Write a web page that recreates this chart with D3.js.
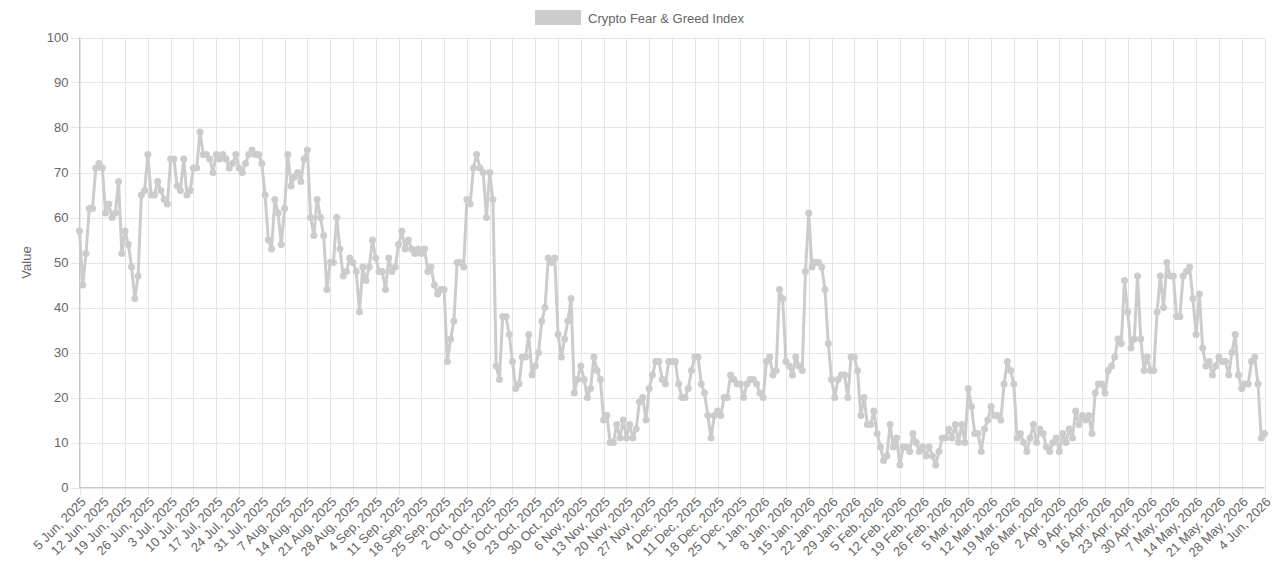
<!DOCTYPE html>
<html>
<head>
<meta charset="utf-8">
<script src="https://cdn.jsdelivr.net/npm/d3@7"></script>
<style>
body { margin: 0; background: #fff; }
svg { display: block; font-family: "Helvetica Neue", Helvetica, Arial, "Liberation Sans", sans-serif; }
</style>
</head>
<body>
<svg id="chart" width="1280" height="573"></svg>
<script>
// daily index values, split by month (first day = 5 Jun 2025)
let jun2025 = [57,45,52,62,62,71,72,71,61,63,60,61,68,52,57,54,49,42,47,65,66,74,65,65,68,66];
let jul2025 = [64,63,73,73,67,66,73,65,66,71,71,79,74,74,73,70,74,73,74,73,71,72,74,71,70,72,74,75,74,74,72];
let aug2025 = [65,55,53,64,61,54,62,74,67,69,70,68,73,75,60,56,64,60,56,44,50,50,60,53,47,48,51,50,48,39,49];
let sep2025 = [46,49,55,51,48,48,44,51,48,49,54,57,53,55,53,52,53,52,53,48,49,45,43,44,44,28,33,37,50,50];
let oct2025 = [49,64,63,71,74,71,70,60,70,64,27,24,38,38,34,28,22,23,29,29,34,25,27,30,37,40,51,50,51,34,29];
let nov2025 = [33,37,42,21,24,27,24,20,22,29,26,24,15,16,10,10,14,11,15,11,14,11,13,19,20,15,22,25,28,28];
let dec2025 = [24,23,28,28,28,23,20,20,22,26,29,29,23,21,16,11,16,17,16,20,20,25,24,23,23,20,23,24,24,23,21];
let jan2026 = [20,28,29,25,26,44,42,28,27,25,29,27,26,48,61,49,50,50,49,44,32,24,20,24,25,25,20,29,29,26,16];
let feb2026 = [20,14,14,17,12,9,6,7,14,9,11,5,9,9,8,12,10,8,9,7,9,7,5,8,11,11,13,11];
let mar2026 = [14,10,14,10,22,18,12,12,8,13,15,18,16,16,15,23,28,26,23,11,12,10,8,11,14,10,13,12,9,8,10];
let apr2026 = [11,8,12,10,13,11,17,14,16,15,16,12,21,23,23,21,26,27,29,33,32,46,39,31,33,47,33,26,29,26];
let may2026 = [26,39,47,40,50,47,47,38,38,47,48,49,42,34,43,31,27,28,25,27,29,28,28,25,30,34,25,22,23,23,28];
let jun2026 = [29,23,11,12];

// labels shown on the x axis, one every 7 days
let tickLabels = ["5 Jun, 2025","12 Jun, 2025","19 Jun, 2025","26 Jun, 2025","3 Jul, 2025","10 Jul, 2025",
	"17 Jul, 2025","24 Jul, 2025","31 Jul, 2025","7 Aug, 2025","14 Aug, 2025","21 Aug, 2025","28 Aug, 2025",
	"4 Sep, 2025","11 Sep, 2025","18 Sep, 2025","25 Sep, 2025","2 Oct, 2025","9 Oct, 2025","16 Oct, 2025",
	"23 Oct, 2025","30 Oct, 2025","6 Nov, 2025","13 Nov, 2025","20 Nov, 2025","27 Nov, 2025","4 Dec, 2025",
	"11 Dec, 2025","18 Dec, 2025","25 Dec, 2025","1 Jan, 2026","8 Jan, 2026","15 Jan, 2026","22 Jan, 2026",
	"29 Jan, 2026","5 Feb, 2026","12 Feb, 2026","19 Feb, 2026","26 Feb, 2026","5 Mar, 2026","12 Mar, 2026",
	"19 Mar, 2026","26 Mar, 2026","2 Apr, 2026","9 Apr, 2026","16 Apr, 2026","23 Apr, 2026","30 Apr, 2026",
	"7 May, 2026","14 May, 2026","21 May, 2026","28 May, 2026","4 Jun, 2026"];
let yTicks = [0,10,20,30,40,50,60,70,80,90,100];
let seriesName = "Crypto Fear & Greed Index";

let values = [].concat(jun2025, jul2025, aug2025, sep2025, oct2025, nov2025,
	dec2025, jan2026, feb2026, mar2026, apr2026, may2026, jun2026);

let plotLeft = 79.5, plotRight = 1264.5, plotTop = 37.5, plotBottom = 487.5;
let textColor = "#666";
let gridColor = "#e5e5e5";
let lineColor = "#cccccc";

let svg = d3.select("#chart");

let scaleX = d3.scaleLinear().domain([0, values.length - 1]).range([plotLeft, plotRight]);
let scaleY = d3.scaleLinear().domain([0, 100]).range([plotBottom, plotTop]);

// horizontal grid
svg.append("g").selectAll("line")
	.data(yTicks)
	.enter().append("line")
	.attr("x1", plotLeft - 8).attr("x2", plotRight)
	.attr("y1", d => Math.round(scaleY(d)) + 0.5).attr("y2", d => Math.round(scaleY(d)) + 0.5)
	.attr("stroke", gridColor).attr("stroke-width", 1);

// vertical grid, one per labelled day
let tickIdx = tickLabels.map((d, i) => i * 7);
svg.append("g").selectAll("line")
	.data(tickIdx)
	.enter().append("line")
	.attr("x1", d => Math.round(scaleX(d)) + 0.5).attr("x2", d => Math.round(scaleX(d)) + 0.5)
	.attr("y1", plotTop).attr("y2", plotBottom + 8)
	.attr("stroke", gridColor).attr("stroke-width", 1);

// axis borders
svg.append("line")
	.attr("x1", plotLeft).attr("x2", plotLeft).attr("y1", plotTop).attr("y2", plotBottom)
	.attr("stroke", "#c8c8c8");
svg.append("line")
	.attr("x1", plotLeft).attr("x2", plotRight).attr("y1", plotBottom).attr("y2", plotBottom)
	.attr("stroke", "#c8c8c8");

// y labels
svg.append("g").selectAll("text")
	.data(yTicks)
	.enter().append("text")
	.attr("x", plotLeft - 11).attr("y", d => scaleY(d))
	.attr("dy", "0.35em")
	.attr("text-anchor", "end")
	.attr("fill", textColor)
	.style("font-size", "13px")
	.text(d => d);

// y title
svg.append("text")
	.attr("transform", `translate(31, ${(plotTop + plotBottom) / 2}) rotate(-90)`)
	.attr("text-anchor", "middle")
	.attr("fill", textColor)
	.style("font-size", "13px")
	.text("Value");

// x labels rotated
svg.append("g").selectAll("text")
	.data(tickLabels)
	.enter().append("text")
	.attr("transform", (d, i) => `translate(${scaleX(i * 7) + 4}, ${plotBottom + 12}) rotate(-45)`)
	.attr("text-anchor", "end")
	.attr("dy", "0.35em")
	.attr("fill", textColor)
	.style("font-size", "13px")
	.text(d => d);

// the line
let line = d3.line()
	.x((d, i) => scaleX(i))
	.y(d => scaleY(d));
svg.append("path")
	.datum(values)
	.attr("d", line)
	.attr("fill", "none")
	.attr("stroke", lineColor)
	.attr("stroke-width", 3)
	.attr("stroke-linejoin", "round");

svg.append("g").selectAll("circle")
	.data(values)
	.enter().append("circle")
	.attr("cx", (d, i) => scaleX(i))
	.attr("cy", d => scaleY(d))
	.attr("r", 3.5)
	.attr("fill", lineColor);

// legend
let legend = svg.append("g");
legend.append("rect")
	.attr("x", 535.5).attr("y", 10.5).attr("width", 45).attr("height", 14)
	.attr("fill", lineColor).attr("stroke", lineColor);
legend.append("text")
	.attr("x", 588).attr("y", 18)
	.attr("dy", "0.35em")
	.attr("fill", textColor)
	.style("font-size", "13px")
	.text(seriesName);
</script>
</body>
</html>
